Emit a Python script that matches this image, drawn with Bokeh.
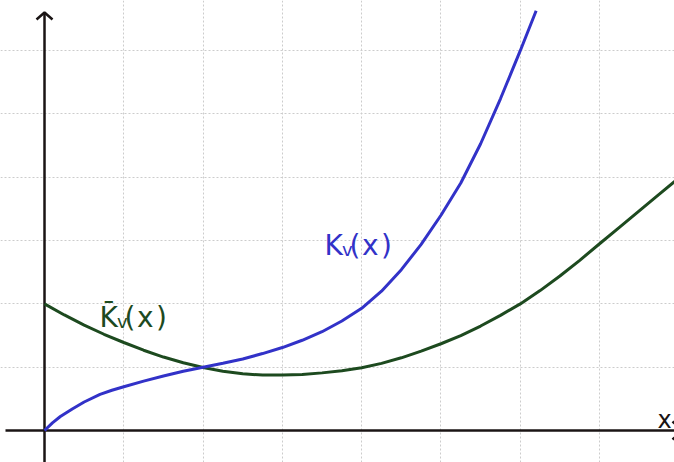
from bokeh.plotting import figure
from bokeh.models import Grid, FixedTicker
from bokeh.core.properties import value
from bokeh.embed import file_html
from bokeh.resources import INLINE

# K_v(x): rises from the origin, grows steeply
kv_x = [0, 0.1, 0.2, 0.35, 0.5, 0.7, 0.85, 1.0, 1.25, 1.5, 1.75, 2.0, 2.25, 2.5,
        2.75, 3.0, 3.25, 3.5, 3.75, 4.0, 4.25, 4.5, 4.75, 5.0, 5.25, 5.5, 5.75,
        6.0, 6.2]
kv_y = [0, 0.12, 0.22, 0.34, 0.45, 0.57, 0.635, 0.69, 0.78, 0.86, 0.935, 1.0,
        1.062, 1.13, 1.215, 1.31, 1.425, 1.56, 1.73, 1.93, 2.2, 2.54, 2.94, 3.40,
        3.91, 4.53, 5.24, 6.0, 6.63]

# K-bar_v(x): starts at 2, dips to a minimum near x = 3, then rises
kbar_x = [0, 0.25, 0.5, 0.75, 1.0, 1.25, 1.5, 1.75, 2.0, 2.25, 2.5, 2.75, 3.0,
          3.25, 3.5, 3.75, 4.0, 4.25, 4.5, 4.75, 5.0, 5.25, 5.5, 5.75, 6.0,
          6.25, 6.5, 6.75, 7.0, 7.25, 7.5, 7.75, 8.0]
kbar_y = [2.0, 1.825, 1.665, 1.52, 1.39, 1.268, 1.16, 1.07, 0.995, 0.935, 0.895,
          0.875, 0.875, 0.885, 0.91, 0.945, 0.99, 1.06, 1.148, 1.253, 1.37, 1.50,
          1.65, 1.818, 2.0, 2.21, 2.44, 2.688, 2.95, 3.21, 3.47, 3.73, 3.99]

# grid positions (one unit apart)
x_grid = [1, 2, 3, 4, 5, 6, 7]
y_grid = [1, 2, 3, 4, 5, 6]

# label anchors
kv_label = (3.53, 2.92)
kbar_label = (0.695, 1.785)
x_label = (7.73, 0.17)

X0, X1 = -0.555, 7.945
Y0, Y1 = -0.506, 6.793
W, H = 674, 462
SX = W / (X1 - X0)   # pixels per x unit
SY = H / (Y1 - Y0)   # pixels per y unit

BLUE = "#3232c8"
GREEN = "#1d4a1f"
AXIS = "#1a1414"
FONT = value("DejaVu Sans")

p = figure(width=W, height=H, x_range=(X0, X1), y_range=(Y0, Y1),
           x_axis_type=None, y_axis_type=None,
           output_backend="svg", toolbar_location=None,
           min_border=0, outline_line_color=None)
p.background_fill_color = "white"
p.border_fill_color = "white"

for dim, ticks in ((0, x_grid), (1, y_grid)):
    g = Grid(dimension=dim, ticker=FixedTicker(ticks=ticks),
             grid_line_color="#cccccc", grid_line_width=1,
             grid_line_dash="2 2")
    p.add_layout(g)

# coordinate axes with open arrowheads
p.line([X0 + 5 / SX, X1 + 8 / SX], [0, 0], line_color=AXIS, line_width=2.5)
p.line([0, 0], [Y0, Y1 - 12 / SY], line_color=AXIS, line_width=2.5)
ytip = Y1 - 12 / SY
p.line([-8 / SX, 0, 8 / SX], [ytip - 7 / SY, ytip, ytip - 7 / SY],
       line_color=AXIS, line_width=2.5)
xtip = X1 + 8 / SX
p.line([xtip - 10 / SX, xtip, xtip - 10 / SX], [9 / SY, 0, -9 / SY],
       line_color=AXIS, line_width=2.5)

# curves
p.line(kbar_x, kbar_y, line_color=GREEN, line_width=3)
p.line(kv_x, kv_y, line_color=BLUE, line_width=3)


def fn_label(anchor, head, color):
    x, y = anchor
    parts = [(head, "28px", 0, 0), ("v", "18px", 17.5, 4),
             ("(", "28px", 25, 0), ("x", "28px", 37.5, 0),
             (")", "28px", 56.5, 0)]
    for txt, size, dx, dy in parts:
        p.text([x], [y], text=[txt], text_font=FONT, text_font_size=size,
               text_color=color, text_baseline="alphabetic",
               x_offset=dx, y_offset=dy)


fn_label(kv_label, "K", BLUE)
fn_label(kbar_label, "K\u0304", GREEN)

p.text([x_label[0]], [x_label[1]], text=["x"], text_font=FONT,
       text_font_size="24px", text_color=AXIS, text_baseline="alphabetic")

open("out.html", "w").write(file_html(p, INLINE))
